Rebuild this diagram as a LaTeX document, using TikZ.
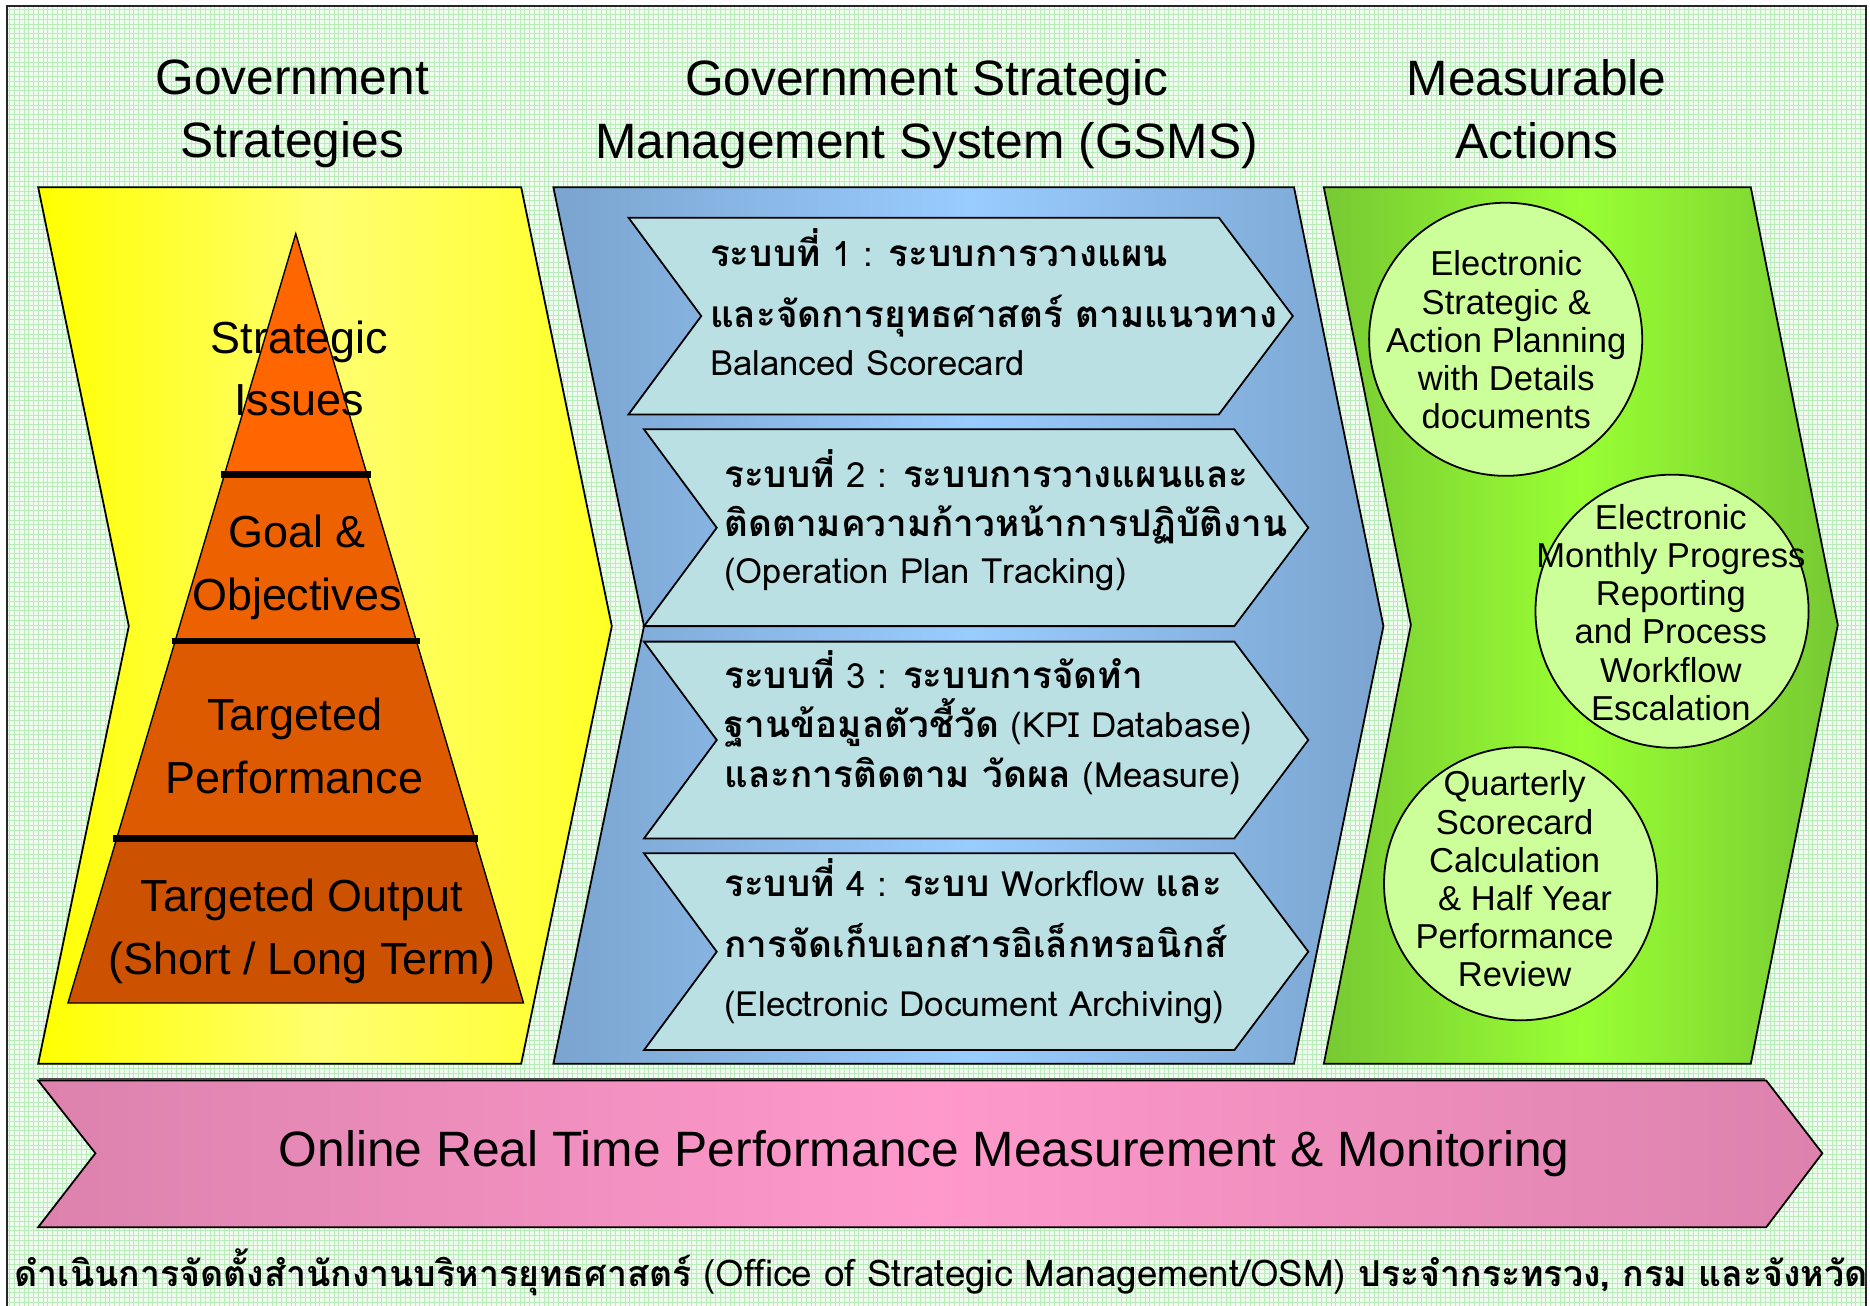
\documentclass[tikz,border=0pt]{standalone}
\usepackage{fontspec}
\setmainfont{Liberation Sans}
\newfontfamily\thaifont[Script=Thai]{Loma}
\newfontfamily\thaibig[Script=Thai,Scale=1.06]{Loma}
\newfontfamily\thaismall[Script=Thai,Scale=0.97]{Loma}
\newcommand\thbold[1]{{\thaibig\bfseries#1}}
\newcommand\thfoot[1]{{\thaismall\bfseries#1}}
\usetikzlibrary{positioning,calc}
\definecolor{Paper}{HTML}{F0FCF0}
\definecolor{Mesh}{HTML}{B8ECB8}
\definecolor{Sun}{HTML}{FFFF00}
\definecolor{SunSoft}{HTML}{FFFF70}
\definecolor{Steel}{HTML}{7BA4CF}
\definecolor{Sky}{HTML}{99CCFF}
\definecolor{Ice}{HTML}{BAE0E4}
\definecolor{Leaf}{HTML}{77C933}
\definecolor{Lime}{HTML}{99FF33}
\definecolor{Mint}{HTML}{CCFF99}
\definecolor{Rose}{HTML}{DC82AD}
\definecolor{RoseSoft}{HTML}{FF99CC}
\definecolor{OrangeA}{HTML}{FF6600}
\definecolor{OrangeB}{HTML}{EE6100}
\definecolor{OrangeC}{HTML}{DD5A00}
\definecolor{OrangeD}{HTML}{CC5100}
\tikzset{
  outline/.style={draw=black,line width=0.9pt,line join=miter},
  thinline/.style={draw=black,line width=0.7pt},
  tierline/.style={draw=black,line width=3.2pt},
  sysbox/.style={draw=black,line width=0.9pt,fill=Ice},
  coltitle/.style={align=center,inner sep=0pt,font=\fontsize{25pt}{31.8pt}\selectfont},
  tier/.style={align=center,inner sep=0pt,font=\fontsize{22.6pt}{31.5pt}\selectfont},
  sysline/.style={anchor=west,inner sep=0pt,text height=12.6pt,text depth=0pt,font=\thaifont\fontsize{17.5pt}{21pt}\selectfont},
  actcircle/.style={circle,draw=black,line width=0.9pt,fill=Mint,minimum size=137.4pt,inner sep=0pt},
  acttext/.style={align=center,inner sep=0pt,font=\fontsize{17.4pt}{19.2pt}\selectfont},
  bannertext/.style={inner sep=0pt,font=\fontsize{25pt}{30pt}\selectfont},
  foot/.style={anchor=west,inner sep=0pt,text height=13.3pt,text depth=0pt,font=\thaifont\fontsize{18.5pt}{22pt}\selectfont}
}
\begin{document}
\begin{tikzpicture}[x=0.6pt,y=-0.6pt]
  \useasboundingbox (0,0) rectangle (1568,1095);
  % paper with mesh and frame
  \fill[Paper] (6,5) rectangle (1565,1095);
  \draw[Mesh,line width=0.3pt,step=2.4pt] (6,1095) grid (1565,5);
  \draw[line width=1pt,draw=black!85] (6,1095) -- (6,5) -- (1565,5) -- (1565,1095);

  % column headings
  \node[coltitle] (head1) at (245,95.5) {Government\\Strategies};
  \node[coltitle] (head2) at (777,95.5) {Government Strategic\\Management System (GSMS)};
  \node[coltitle] (head3) at (1288.5,91.5) {Measurable\\Actions};

  % strategies chevron with pyramid
  \draw[outline,left color=Sun,right color=Sun!85!white,middle color=SunSoft] (32,157) -- (437,157) -- (513,525) -- (437,892) -- (32,892) -- (108,525) -- cycle;
  \coordinate (ap) at (248,196);
  \coordinate (bl) at (57,841);
  \coordinate (br) at (439,841);
  \draw[thinline,fill=OrangeA] (ap) -- ($(ap)!.313!(br)$) -- ($(ap)!.313!(bl)$) -- cycle;
  \draw[thinline,fill=OrangeB] ($(ap)!.313!(bl)$) -- ($(ap)!.313!(br)$) -- ($(ap)!.529!(br)$) -- ($(ap)!.529!(bl)$) -- cycle;
  \draw[thinline,fill=OrangeC] ($(ap)!.529!(bl)$) -- ($(ap)!.529!(br)$) -- ($(ap)!.786!(br)$) -- ($(ap)!.786!(bl)$) -- cycle;
  \draw[thinline,fill=OrangeD] ($(ap)!.786!(bl)$) -- ($(ap)!.786!(br)$) -- (br) -- (bl) -- cycle;
  \foreach \t in {.313,.529,.786}
    \draw[tierline] ($(ap)!\t!(bl)+(-3,0)$) -- ($(ap)!\t!(br)+(3,0)$);
  \node[tier] (tier1) at (251,309) {Strategic\\Issues};
  \node[tier] (tier2) at (249,476) {Goal \&\\Objectives};
  \node[tier] (tier3) at (247,625.5) {Targeted\\Performance};
  \node[tier] (tier4) at (253,781) {Targeted Output\\(Short / Long Term)};

  % GSMS chevron with four systems
  \draw[outline,left color=Steel,right color=Steel,middle color=Sky] (464,157) -- (1085,157) -- (1160,525) -- (1085,892) -- (464,892) -- (540,525) -- cycle;
  \foreach \x/\y in {527/182.5,540/360,540/538,540/715.5}
    \draw[sysbox] (\x,\y) -- ++(495,0) -- ++(62,82.5) -- ++(-62,82.5) -- ++(-495,0) -- ++(61,-82.5) -- cycle;
  \node[sysline] (sys1a) at (595,213) {\thbold{ระบบที่} 1 : \thbold{ระบบการวางแผน}};
  \node[sysline] (sys1b) at (595,264) {\thbold{และจัดการยุทธศาสตร์ ตามแนวทาง}};
  \node[sysline] (sys1c) at (595,304) {Balanced Scorecard};
  \node[sysline] (sys2a) at (607,398) {\thbold{ระบบที่} 2 : \thbold{ระบบการวางแผนและ}};
  \node[sysline] (sys2b) at (607,439) {\thbold{ติดตามความก้าวหน้าการปฏิบัติงาน}};
  \node[sysline] (sys2c) at (607,479) {(Operation Plan Tracking)};
  \node[sysline] (sys3a) at (607,567) {\thbold{ระบบที่} 3 : \thbold{ระบบการจัดทำ}};
  \node[sysline] (sys3b) at (607,608) {\thbold{ฐานข้อมูลตัวชี้วัด} (KPI Database)};
  \node[sysline] (sys3c) at (607,650) {\thbold{และการติดตาม วัดผล} (Measure)};
  \node[sysline] (sys4a) at (607,741) {\thbold{ระบบที่} 4 : \thbold{ระบบ} Workflow \thbold{และ}};
  \node[sysline] (sys4b) at (607,792) {\thbold{การจัดเก็บเอกสารอิเล็กทรอนิกส์}};
  \node[sysline] (sys4c) at (607,842) {(Electronic Document Archiving)};

  % measurable actions chevron
  \draw[outline,left color=Leaf,right color=Leaf,middle color=Lime] (1110,157) -- (1468,157) -- (1541,524) -- (1468,892) -- (1110,892) -- (1183,524) -- cycle;
  \node[actcircle] (plan) at (1262.5,284.5) {};
  \node[acttext] (plantext) at (1263,285) {Electronic\\Strategic \&\\Action Planning\\with Details\\documents};
  \node[actcircle] (report) at (1402,512.5) {};
  \node[acttext] (reporttext) at (1401,513.5) {Electronic\\Monthly Progress\\Reporting\\and Process\\Workflow\\Escalation};
  \node[actcircle] (review) at (1275,741) {};
  \node[acttext] (reviewtext) at (1270,737) {Quarterly\\Scorecard\\Calculation\\\hspace*{.6em}\& Half Year\\Performance\\Review};

  % monitoring banner
  \draw[outline,left color=Rose,right color=Rose,middle color=RoseSoft] (32,906) -- (1481,906) -- (1528,967) -- (1481,1029) -- (32,1029) -- (80,967) -- cycle;
  \draw[line width=1.2pt,black!70] (33,904.5) -- (1480,904.5);
  \node[bannertext] (banner) at (775,967) {Online Real Time Performance Measurement \& Monitoring};

  % footer, cut by the frame
  \begin{scope}
    \clip (6,5) rectangle (1565,1095);
    \node[foot] (osm) at (12,1068) {\thfoot{ดำเนินการจัดตั้งสำนักงานบริหารยุทธศาสตร์} (Office of Strategic Management/OSM) \thfoot{ประจำกระทรวง, กรม และจังหวัด}};
  \end{scope}
\end{tikzpicture}
\end{document}
